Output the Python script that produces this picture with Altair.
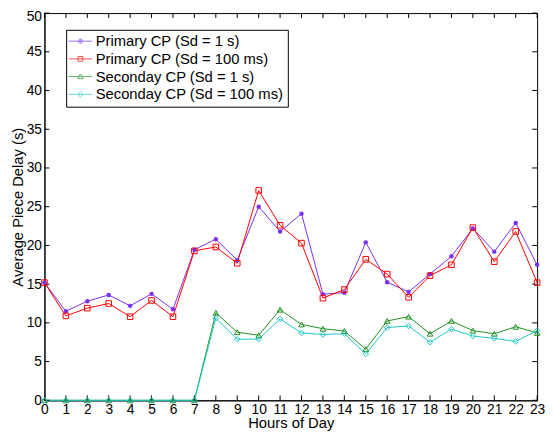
import altair as alt
import pandas as pd

hours = list(range(24))
series_names = [
    "Primary CP (Sd = 1 s)",
    "Primary CP (Sd = 100 ms)",
    "Seconday CP (Sd = 1 s)",
    "Seconday CP (Sd = 100 ms)",
]
primary_1s = [15.2, 11.5, 12.8, 13.6, 12.2, 13.75, 11.75, 19.45, 20.8, 18.1, 25.0, 21.8,
              24.1, 13.7, 13.9, 20.4, 15.25, 14.0, 16.3, 18.6, 22.2, 19.2, 22.9, 17.5]
primary_100ms = [15.2, 10.9, 11.9, 12.5, 10.8, 12.9, 10.8, 19.3, 19.8, 17.7, 27.1, 22.6,
                 20.3, 13.2, 14.3, 18.2, 16.3, 13.3, 16.1, 17.5, 22.3, 17.9, 21.8, 15.2]
secondary_1s = [0, 0, 0, 0, 0, 0, 0, 0, 11.3, 8.8, 8.4, 11.7,
                9.8, 9.25, 8.95, 6.6, 10.25, 10.8, 8.6, 10.25, 9.0, 8.6, 9.5, 8.7]
secondary_100ms = [0, 0, 0, 0, 0, 0, 0, 0, 10.6, 7.9, 7.9, 10.5,
                   8.7, 8.5, 8.6, 6.0, 9.4, 9.6, 7.5, 9.2, 8.3, 8.0, 7.6, 9.0]
hour_ticks = list(range(24))
delay_ticks = [0, 5, 10, 15, 20, 25, 30, 35, 40, 45, 50]

colors = ["#7b2ff0", "#ff0000", "#1f8f1f", "#1fc8c8"]
marker_shapes = ["circle", "square", "triangle-up", "diamond"]
marker_filled = [True, False, False, False]
marker_sizes = [20, 32, 32, 32]
legend_paths = [
    "M-2,0H2M0.35,0A0.35,0.35,0,1,1,-0.35,0A0.35,0.35,0,1,1,0.35,0M0.15,0A0.15,0.15,0,1,1,-0.15,0A0.15,0.15,0,1,1,0.15,0",
    "M-2,0H2M-0.4,-0.4H0.4V0.4H-0.4Z",
    "M-2,0H2M0,-0.45L0.45,0.35H-0.45Z",
    "M-2,0H2M0,-0.45L0.45,0L0,0.45L-0.45,0Z",
]

all_values = [primary_1s, primary_100ms, secondary_1s, secondary_100ms]
rows = []
for name, vals in zip(series_names, all_values):
    for h, v in zip(hours, vals):
        rows.append({"hour": h, "delay": v, "series": name})
df = pd.DataFrame(rows)

W, H = 500, 393
FONT = "Liberation Sans"

xs = alt.Scale(domain=[0, 23], nice=False, zero=False)
ys = alt.Scale(domain=[0, 50], nice=False)
cs = alt.Scale(domain=series_names, range=colors)

ax_x = alt.Axis(values=hour_ticks, title="Hours of Day", format="d", grid=False, ticks=False,
                labelFontSize=14, titleFontSize=15, labelFont=FONT, titleFont=FONT,
                labelPadding=2, titlePadding=0, labelFlush=False, domainColor="black",
                labelColor="black", titleColor="black", titleFontWeight="normal")
ax_y = alt.Axis(values=delay_ticks, title="Average Piece Delay (s)", format="d", grid=False,
                ticks=False, labelFontSize=14, titleFontSize=15, labelFont=FONT, titleFont=FONT,
                labelPadding=3, titlePadding=1, labelFlush=False,
                labelBaseline=alt.expr("datum.value == 50 ? 'top' : 'middle'"),
                labelOffset=alt.expr("datum.value == 50 ? -3 : 0"),
                domainColor="black",
                labelColor="black", titleColor="black", titleFontWeight="normal")

leg = alt.Legend(orient="none", legendX=22, legendY=17, title=None, labelFontSize=15,
                 labelFont=FONT, labelColor="black", labelLimit=400, symbolSize=144,
                 symbolStrokeWidth=1, symbolOffset=3, labelOffset=8, padding=4, rowPadding=2,
                 strokeColor="black", fillColor="white", cornerRadius=0)

X = lambda f: alt.X(f, scale=xs, axis=ax_x)
Y = lambda f: alt.Y(f, scale=ys, axis=ax_y)

xt = pd.DataFrame({"h": hour_ticks})
yt = pd.DataFrame({"v": delay_ticks})

lines = alt.Chart(df).mark_line(strokeWidth=1).encode(
    x=X("hour:Q"),
    y=Y("delay:Q"),
    color=alt.Color("series:N", scale=cs, legend=leg),
    detail="series:N",
    order="hour:Q",
)

tick_bottom = alt.Chart(xt).mark_rule(color="black", strokeWidth=1).encode(
    x=X("h:Q"), y=alt.value(H), y2=alt.value(H - 5))
tick_top = alt.Chart(xt).mark_rule(color="black", strokeWidth=1).encode(
    x=X("h:Q"), y=alt.value(0), y2=alt.value(5))
tick_left = alt.Chart(yt).mark_rule(color="black", strokeWidth=1).encode(
    y=Y("v:Q"), x=alt.value(0), x2=alt.value(5))
tick_right = alt.Chart(yt).mark_rule(color="black", strokeWidth=1).encode(
    y=Y("v:Q"), x=alt.value(W), x2=alt.value(W - 5))

point_layers = []
for name, col, shp, fil, sz in zip(series_names, colors, marker_shapes, marker_filled, marker_sizes):
    pts = alt.Chart(df).transform_filter(alt.datum.series == name).mark_point(
        shape=shp, filled=fil, size=sz, strokeWidth=1, color=col, opacity=1
    ).encode(
        x=X("hour:Q"),
        y=Y("delay:Q"),
    )
    point_layers.append(pts)

legend_layer = alt.Chart(df).transform_filter("false").mark_point(filled=False).encode(
    x=X("hour:Q"),
    y=Y("delay:Q"),
    color=alt.Color("series:N", scale=cs, legend=leg),
    shape=alt.Shape("series:N", scale=alt.Scale(domain=series_names, range=legend_paths), legend=leg),
)

chart = alt.layer(
    lines, tick_bottom, tick_top, tick_left, tick_right, *point_layers, legend_layer
).properties(
    width=W, height=H, autosize="none",
    padding={"left": 37, "top": 2, "right": 9, "bottom": 30},
    background="white",
).configure_view(stroke="black", strokeWidth=1)

chart.save("out.html", embed_options={"renderer": "svg", "actions": False})
